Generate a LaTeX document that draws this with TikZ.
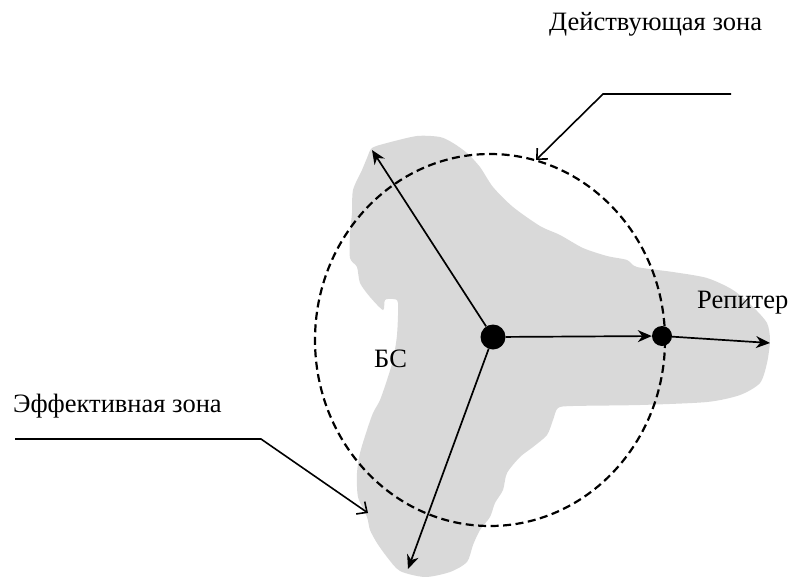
\documentclass[tikz,border=0pt]{standalone}
\usepackage{fontspec}
\setmainfont{Liberation Serif}
\usetikzlibrary{arrows.meta}
\definecolor{zonegray}{HTML}{D9D9D9}
\begin{document}
\begin{tikzpicture}[x=1pt,y=-1pt,
  captiontext/.style={font=\fontsize{26.5}{31}\selectfont, inner sep=0pt},
  blackdot/.style={circle, fill=black, inner sep=0pt},
  ray/.style={line width=1.7pt, -{Stealth[length=14pt,width=12pt,inset=4.5pt]}},
  leader/.style={line width=1.6pt, -{Straight Barb[length=8pt,width=15pt]}},
  rangeline/.style={line width=2.2pt, dash pattern=on 8pt off 4.5pt}]
\useasboundingbox (0,0) rectangle (790,576);

% effective coverage area
\fill[zonegray] plot[smooth cycle, tension=0.45] coordinates {
  (372,148) (387,143) (417,136) (440,137) (453,143) (467,153) (480,167)
  (493,187) (513,207) (540,226) (560,235) (583,248) (607,256) (627,260)
  (637,267) (673,272) (707,278) (733,290) (753,307) (767,323) (770,340)
  (767,363) (760,383) (740,395) (707,402) (640,405) (573,406) (558,408)
  (553,420) (547,435) (533,447) (520,457) (507,473) (503,490) (495,503)
  (490,517) (480,530) (473,545) (467,562) (450,572) (425,577) (400,571)
  (387,557) (377,543) (370,530) (367,517) (358,497) (357,473) (360,453)
  (367,430) (373,413) (380,400) (387,380) (393,360) (397,335) (398,303)
  (393,299) (385,300) (383,310) (370,297) (360,283) (357,267) (350,258)
  (350,233) (352,213) (353,190) (362,170) (367,158)};

% nominal service area
\draw[rangeline] (490,340) ellipse [x radius=175, y radius=186];

% base station and repeater
\node[blackdot, minimum size=25pt] (bs) at (493,337) {};
\node[blackdot, minimum size=20pt] (rep) at (662,336) {};

\coordinate (upTip) at (372,150);
\coordinate (downTip) at (408,569);
\coordinate (repTip) at (770,343);

\draw[ray] (bs) -- (upTip);
\draw[ray] (bs) -- (downTip);
\draw[ray] (bs) -- (rep);
\draw[ray] (rep) -- (repTip);

% captions
\node[captiontext, anchor=base west] (act) at (549,30) {Действующая зона};
\node[captiontext, anchor=base west] (eff) at (13,412) {Эффективная зона};
\node[captiontext, anchor=base west] (bsl) at (374,367) {БС};
\node[captiontext, anchor=base west] (repl) at (697,308) {Репитер};

% leader lines
\coordinate (actA) at (731,94);
\coordinate (actB) at (603,94);
\coordinate (actTip) at (536,160);
\draw[leader] (actA) -- (actB) -- (actTip);

\coordinate (effA) at (15,439);
\coordinate (effB) at (261,439);
\coordinate (effTip) at (368,513);
\draw[leader] (effA) -- (effB) -- (effTip);
\end{tikzpicture}
\end{document}
